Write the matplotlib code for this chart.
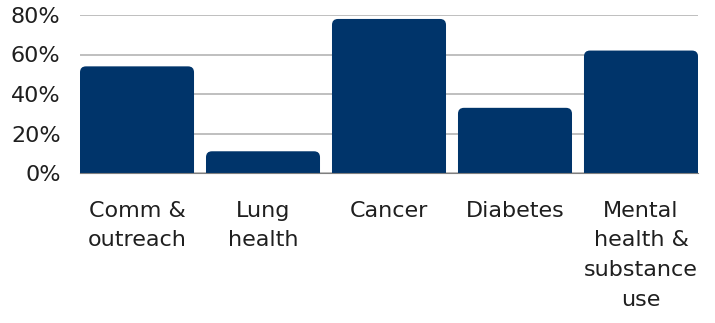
import matplotlib
matplotlib.use("Agg")
import matplotlib.pyplot as plt
from matplotlib.patches import FancyBboxPatch
from matplotlib.ticker import PercentFormatter

categories = ["Comm &\noutreach", "Lung\nhealth", "Cancer", "Diabetes",
              "Mental\nhealth &\nsubstance\nuse"]
values = [54, 11, 78, 33, 62]

bar_color = "#00346a"
text_color = "#1f1f1f"

plt.rcParams['font.family'] = ['DejaVu Sans']

fig = plt.figure(figsize=(7.15, 3.23), dpi=100)
ax = fig.add_axes([80 / 715, 1 - 173 / 323, 618 / 715, 158 / 323])

width = 0.905
x = list(range(len(categories)))
bars = ax.bar(x, values, width=width, color="none")

ax.set_xlim(-width / 2, len(categories) - 1 + width / 2)
ax.set_ylim(0, 80)

# rounded top corners: rounded box extending below 0, clipped by the axes
px_x = 618 / (len(categories) - 1 + width)
px_y = 158 / 80
r = 6
for b in bars:
    patch = FancyBboxPatch((b.get_x(), -20), b.get_width(), b.get_height() + 20,
                           boxstyle=f"round,pad=0,rounding_size={r / px_x}",
                           mutation_aspect=(r / px_y) / (r / px_x),
                           facecolor=bar_color, edgecolor="none", zorder=3)
    patch.set_clip_path(ax.patch)
    ax.add_patch(patch)

ax.set_yticks([0, 20, 40, 60, 80])
ax.yaxis.set_major_formatter(PercentFormatter(decimals=0))
ax.grid(axis="y", color="#bfbfbf", linewidth=1.4, zorder=0)
ax.set_axisbelow(True)

ax.set_xticks(x)
ax.set_xticklabels(categories, fontsize=16, color=text_color, linespacing=1.6, va="top")
ax.tick_params(axis="x", length=0, pad=20)
ax.tick_params(axis="y", length=0, pad=14, labelsize=16, labelcolor=text_color)

for s in ["left", "right", "top"]:
    ax.spines[s].set_visible(False)
ax.spines["bottom"].set_color("#7f7f7f")
ax.spines["bottom"].set_zorder(4)

fig.savefig("out.png", dpi=100)
